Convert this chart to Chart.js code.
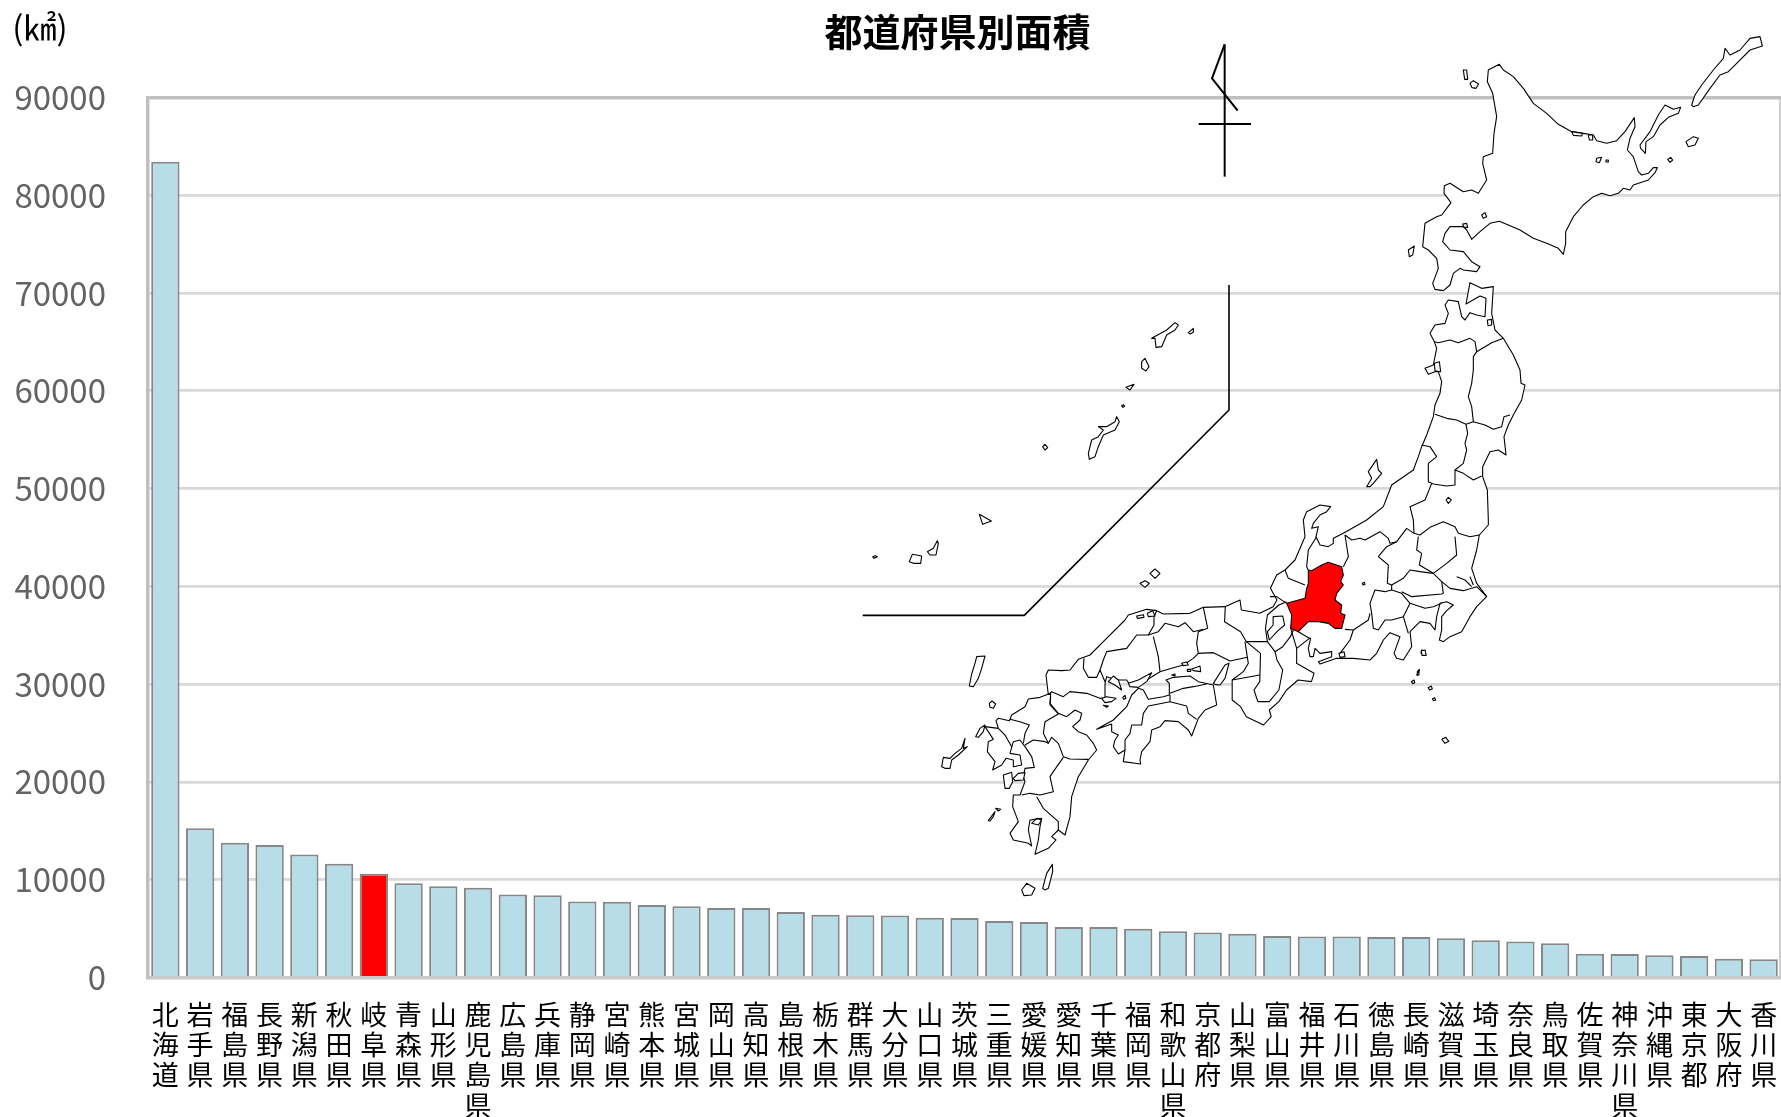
<!DOCTYPE html>
<html lang="ja">
<head>
<meta charset="utf-8">
<title>都道府県別面積</title>
<script src="https://cdn.jsdelivr.net/npm/chart.js@4"></script>
<style>
  html, body { margin: 0; padding: 0; background: #fff; }
  canvas { display: block; }
</style>
</head>
<body>
<canvas id="area-chart" width="1781" height="1117"></canvas>
<script>
// --- DATA ---
const prefectures = ['北海道','岩手県','福島県','長野県','新潟県','秋田県','岐阜県','青森県','山形県','鹿児島県','広島県','兵庫県','静岡県','宮崎県','熊本県','宮城県','岡山県','高知県','島根県','栃木県','群馬県','大分県','山口県','茨城県','三重県','愛媛県','愛知県','千葉県','福岡県','和歌山県','京都府','山梨県','富山県','福井県','石川県','徳島県','長崎県','滋賀県','埼玉県','奈良県','鳥取県','佐賀県','神奈川県','沖縄県','東京都','大阪府','香川県'];
const areas = [83424,15275,13784,13562,12584,11638,10621,9646,9323,9187,8480,8401,7777,7735,7409,7282,7114,7104,6708,6408,6362,6341,6113,6097,5774,5676,5172,5158,4987,4725,4612,4465,4248,4190,4186,4147,4131,4017,3798,3691,3507,2441,2416,2281,2194,1905,1877];
const highlighted = '岐阜県';
const yMax = 90000;
const yStep = 10000;
const titleText = '都道府県別面積';
const unitText = '(㎢)';

const A = [1300, 20, 3], B = [1270, 440, 3], C = [930, 600, 3], D = [850, 270, 3], E = [900, 500, 2.613];

function seg(crop, flat) {
    const pts = [];
    for (let i = 0; i < flat.length; i += 2) pts.push([crop[0] + flat[i] / crop[2], crop[1] + flat[i + 1] / 3]);
    return pts;
}

const honshu = [].concat(
    seg(A, [435,855,445,840,475,845,485,890,495,900,510,878,530,885,555,890,558,835,540,828,498,852,510,788,545,805,580,800,575,880,585,930,610,955,640,1005,660,1050,663,1090,675,1095,665,1140,640,1185,625,1215,612,1250,618,1305,595,1290,570,1295,548,1340,548,1370,562,1410,565,1500]),
    seg(B, [655,255,628,285,620,330,605,385,620,430,650,470,620,500,600,530,575,575,540,590,520,605,508,600,515,570,515,530,530,512,550,495,530,485,510,490,500,530,495,570,480,550,450,545,420,575,425,620,400,660,380,655,372,640,390,590,360,578,340,600,320,640,300,660,250,655,200,655,150,672,145,665,185,650,185,635,150,640,135,625,130,650,120,650,115,625,122,595,118,595,80,625,80,660]),
    seg(E, [1036,490,1082,520,1075,545,1040,540,1010,570,990,605,965,630,970,650,950,675,905,650,890,620,868,600,868,540]),
    seg(C, [940,215,955,190,952,172,900,183,850,158,805,160,790,175,760,195,725,205,690,215,650,240,600,255,590,240,560,240,530,230,525,250,525,295,510,295,470,280,420,275,400,290,365,275,355,285,348,225,355,210,395,212,420,210,445,178,480,165,520,125,585,60,595,45,650,28,680,32,700,42,780,40,820,22,885,20,930,0]),
    seg(E, [892,330,940,340,975,320,985,300,968,265]),
    seg(B, [20,405,45,390,75,360,105,290,100,240,110,215,150,195,182,200,170,215,150,225,130,250,125,265,145,260,138,290,150,315,175,320,190,310,190,295,220,280,290,240,340,200,365,135,430,90,445,50,455,20]),
    seg(A, [380,1245,400,1190,405,1155,420,1120,425,1085,415,1055,405,1055,385,1063,375,1045,400,1035,410,985,403,965,390,940,405,915,435,910,445,880])
);
const hokkaido = seg(A, [565,150,598,133,610,150,640,170,670,205,700,250,740,280,775,313,815,335,850,340,880,345,890,362,920,370,950,362,975,335,1003,293,1005,320,990,355,982,390,1000,410,1015,455,1025,465,1045,460,1060,443,1072,443,1065,458,1045,480,1000,495,990,510,970,505,955,520,930,527,905,520,880,530,850,555,820,590,797,635,797,670,790,703,775,685,740,670,700,655,660,630,625,615,598,604,570,610,540,635,515,658,500,630,490,620,450,620,435,640,428,665,450,690,490,695,515,725,540,740,530,755,490,750,480,745,460,760,450,795,430,812,405,808,398,790,415,745,410,715,385,690,368,680,372,640,375,610,410,590,425,585,440,565,453,548,432,520,433,497,450,490,490,515,515,510,535,520,560,480,548,430,550,410,578,400,582,340,590,290,578,220,562,185]);
const shikoku = seg(C, [500,388,550,360,590,320,605,285,625,265,640,270,655,298,700,290,718,285,718,250,708,240,730,232,780,228,805,245,850,255,855,285,860,315,825,330,805,355,785,408,775,390,745,365,705,362,690,380,665,390,660,425,635,455,630,480,632,492,580,485,585,450,565,462,550,440,555,420,565,405,545,395,545,372]);
const kyushu = seg(C, [362,280,330,292,295,297,285,320,245,345,238,362,205,355,198,362,205,385,165,380,190,418,175,425,172,455,195,485,188,510,215,495,228,475,250,480,250,500,275,495,270,465,240,460,250,425,270,420,285,440,305,470,313,502,285,505,280,530,285,545,270,585,250,585,248,620,265,665,240,700,250,720,295,730,305,738,295,690,300,660,335,655,330,680,325,720,315,763,355,745,378,720,365,710,385,690,405,705,420,650,425,590,445,530,475,480,500,450,490,430,470,405,445,395,428,380,450,360,455,340,435,330,410,350,385,340,360,310]);
const gifuShape = seg(B, [115,390,125,392,155,375,175,367,215,380,220,405,212,425,220,435,200,460,195,480,215,495,212,520,225,525,215,565,195,565,175,550,145,545,115,545,85,575,62,565,65,525,50,490,105,475,110,445,115,430]);

const islands = [
    seg(A, [1020,375,1050,335,1075,285,1095,255,1120,268,1142,262,1135,280,1105,292,1080,315,1060,350,1038,365,1036,400,1022,385]),
    seg(A, [1175,255,1185,225,1205,195,1240,150,1270,115,1275,85,1290,105,1320,90,1350,55,1380,50,1387,78,1350,90,1310,130,1285,155,1260,165,1230,205,1195,255,1180,260]),
    seg(A, [1158,365,1180,350,1195,355,1185,375,1165,380]),
    seg(A, [1103,418,1112,412,1118,420,1110,427]),
    seg(A, [510,190,520,182,536,192,528,205,516,203]),
    seg(A, [490,150,500,150,503,178,494,178]),
    seg(A, [325,690,343,678,338,705,328,710]),
    seg(A, [545,585,555,578,560,590,550,595]),
    seg(A, [488,612,500,610,503,622,492,622]),
    seg(A, [890,415,905,412,898,428,888,425]),
    seg(A, [918,420,925,420,925,426,918,426]),
    seg(A, [815,335,848,340,845,348,820,346]),
    seg(A, [865,345,878,345,878,360,868,360]),
    seg(A, [562,900,575,898,575,915,564,917]),
    seg(A, [403,1030,418,1025,422,1055,405,1052]),
    seg(B, [290,140,305,115,295,95,320,58,325,90,335,100,310,130,300,140]),
    seg(B, [455,630,465,635,462,645,453,640]),
    seg(B, [442,695,448,688,443,706]),
    seg(E, [1336,545,1343,540,1345,548,1340,551]),
    seg(E, [1380,563,1388,558,1391,566,1384,570]),
    seg(E, [1391,597,1397,593,1400,600,1394,602]),
    seg(E, [1416,718,1426,712,1434,724,1424,730]),
    seg(E, [1350,525,1356,510,1356,525]),
    seg(E, [1362,452,1372,450,1375,466,1364,466]),
    seg(C, [850,250,885,195,897,190,885,235,870,255,855,253]),
    seg(C, [785,207,810,198,812,215,790,212]),
    seg(C, [595,250,625,240,640,232,665,218,650,245,625,262,600,260]),
    seg(C, [535,245,550,228,565,240,575,270,555,255]),
    seg(C, [515,295,530,290,558,295,545,305,525,308]),
    seg(C, [520,316,535,318,530,322]),
    seg(C, [578,292,585,286,588,295,582,298]),
    seg(C, [725,225,735,222,735,228]),
    seg(C, [755,190,770,186,775,195,760,197]),
    seg(C, [772,208,782,208,782,214,772,214]),
    seg(C, [620,48,640,44,642,52,622,55]),
    seg(C, [652,40,668,32,675,48,655,50]),
    seg(C, [118,258,125,222,135,190,140,170,165,168,155,205,145,235,130,260]),
    seg(C, [178,310,186,303,197,312,190,325,180,322]),
    seg(C, [35,500,40,472,60,475,75,460,95,445,105,415,100,445,112,440,85,465,65,480,60,505,45,505]),
    seg(C, [137,410,150,385,165,375,160,395,145,412]),
    seg(C, [220,525,245,517,248,545,238,565,225,565]),
    seg(C, [250,535,265,520,285,518,280,540,255,542]),
    seg(C, [175,662,195,635,190,650,180,663]),
    seg(C, [197,625,212,628,205,633]),
    seg(C, [275,870,290,850,315,865,305,885,282,887]),
    seg(C, [338,865,350,820,367,793,368,815,355,865,345,870]),
    seg(D, [900,910,915,897,930,910,915,925]),
    seg(D, [870,940,885,932,898,940,885,952]),
    seg(D, [905,205,950,180,975,158,985,165,975,180,950,195,935,230,918,232,915,205]),
    seg(D, [1015,188,1030,175,1030,187,1020,192]),
    seg(D, [875,275,885,265,897,290,888,303,875,295]),
    seg(D, [828,352,852,343,840,360]),
    seg(D, [815,408,820,404,824,409,819,412]),
    seg(D, [715,550,725,510,745,500,760,480,745,470,770,470,795,455,800,440,808,455,795,480,760,495,745,530,735,560,718,568]),
    seg(D, [578,530,585,523,593,533,585,540]),
    seg(D, [388,733,424,753,398,763]),
    seg(D, [232,845,250,835,262,812,265,820,258,855,240,855]),
    seg(D, [178,875,187,853,215,858,212,880,190,880]),
    seg(D, [68,860,76,857,82,860,72,865])
];
const lakes = [
    seg(B, [528,180,535,172,544,180,535,190]),
    seg(B, [277,430,283,427,285,433,279,435]),
    seg(B, [207,640,222,635,225,650,210,652]),
    seg(E, [975,350,1000,348,1005,375,985,395,965,420,960,395,975,375]),
    seg(C, [305,670,320,655,335,660,325,675])
];
const borders = [
    // Tohoku
    seg(A, [403,965,415,968,450,960,475,968,510,955,525,965,530,995,575,968,610,955]),
    seg(A, [530,995,520,1010,520,1050,515,1090,505,1130,515,1160,520,1205]),
    seg(A, [405,1183,440,1195,470,1200,498,1213,520,1205,555,1215,580,1228,605,1220,612,1190,630,1185]),
    seg(A, [498,1213,503,1240,495,1270,500,1290,490,1330,465,1350,490,1360,520,1380,545,1368]),
    seg(A, [365,1275,390,1280,410,1310,385,1330,385,1385,400,1392,440,1398,465,1395,465,1350]),
    // Kanto, Chubu
    seg(B, [485,130,465,180,420,200,430,240,432,280,450,285,480,262,520,245,555,260,565,280,600,290,628,285]),
    seg(B, [445,290,440,330,455,340,448,375,490,400,530,370,560,345,555,290]),
    seg(B, [432,280,410,265,380,305,350,320,325,350,355,375,352,430,365,435,400,415,420,390,450,395,490,400,515,425,520,460]),
    seg(B, [225,285,245,300,270,295,285,300,330,275,355,295,360,310,380,305]),
    seg(B, [365,450,395,460,420,490,400,530,365,540,345,540,325,570,310,565,305,520,300,490,315,450,345,455,365,450]),
    seg(B, [365,435,365,450]),
    seg(B, [395,455,425,470,515,462,520,460]),
    seg(B, [420,490,465,505,490,500,515,490]),
    seg(B, [400,530,415,580]),
    seg(B, [515,425,540,445,580,452,620,440,650,470]),
    seg(B, [560,410,585,420,605,440]),
    seg(B, [600,410,610,435]),
    seg(B, [300,520,295,540,250,570,225,568]),
    seg(B, [250,570,240,600,210,640]),
    seg(B, [225,285,235,350,220,380]),
    seg(B, [140,290,115,330,110,380,115,390]),
    seg(B, [45,390,55,415,105,435]),
    seg(B, [50,490,20,470,0,470]),
    seg(B, [85,575,118,595]),
    seg(B, [62,565,80,625]),
    // Kinki
    seg(E, [1010,305,990,315,960,345,955,385,960,425,980,455,1000,440,1020,410,1030,385]),
    seg(E, [850,320,848,365,890,395,905,425,960,425]),
    seg(E, [905,425,942,460,940,545,925,570,935,605,965,605,990,570,1000,510,985,480,980,455]),
    seg(E, [868,540,940,525]),
    seg(C, [945,125,952,172]),
    // Chugoku
    seg(C, [820,22,833,85,805,95,800,130,805,160]),
    seg(C, [655,105,685,95,705,70,745,80,765,68,790,95,820,88]),
    seg(C, [670,110,685,170,690,215]),
    seg(C, [680,32,672,50,672,75,655,105,620,105,590,145,530,155,520,180,510,210,525,245]),
    seg(C, [462,175,460,205,475,232,500,232,510,210]),
    // Shikoku
    seg(C, [720,285,720,305,770,318,775,340,800,358]),
    seg(C, [720,305,655,318,640,340,635,375,605,375,600,400,585,420,585,450]),
    seg(C, [720,280,760,265,790,260,830,252]),
    // Kyushu
    seg(C, [362,290,360,315,385,342,345,365,340,400,355,430,365,412,385,430,400,470,420,477,475,478]),
    seg(C, [240,358,270,365,298,375,285,400,280,430]),
    seg(C, [285,435,310,420,345,425,355,430]),
    seg(C, [400,472,370,515,360,530,370,575,330,585,300,580,275,585]),
    seg(C, [320,590,340,625,385,665,385,690]),
    seg(C, [205,385,225,405,245,440])
];
const insetLine = seg(D, [38,1036,523,1036,1137,420,1137,45]);
const compass = [
    seg([780,0,3], [1334,133,1334,530]),
    seg([780,0,3], [1334,133,1296,235,1373,332]),
    seg([780,0,3], [1256,372,1413,372])
];

// --- HELPERS ---
function tracePath(ctx, pts, closed) {
    ctx.beginPath();
    pts.forEach((p, i) => i ? ctx.lineTo(p[0], p[1]) : ctx.moveTo(p[0], p[1]));
    if (closed) ctx.closePath();
}

const framePlugin = {
    id: 'frameAndMap',
    afterLayout(chart) {
        // title centre sits a little left of the plot centre
        chart.titleBlock.left -= 14;
    },
    beforeDatasetsDraw(chart) {
        const ctx = chart.ctx, area = chart.chartArea;
        ctx.save();
        ctx.strokeStyle = '#bfbfbf';
        ctx.lineWidth = 1.5;
        ctx.beginPath();
        ctx.moveTo(area.right - 1, area.top);
        ctx.lineTo(area.right - 1, area.bottom);
        ctx.stroke();
        ctx.restore();
    },
    afterDatasetsDraw(chart) {
        const ctx = chart.ctx;
        ctx.save();
        ctx.lineJoin = 'round';
        ctx.strokeStyle = '#000';
        ctx.fillStyle = '#fff';
        ctx.lineWidth = 1.1;
        [hokkaido, honshu, shikoku, kyushu].concat(islands).forEach(shape => {
            tracePath(ctx, shape, true);
            ctx.fill();
            ctx.stroke();
        });
        borders.forEach(line => { tracePath(ctx, line, false); ctx.stroke(); });
        lakes.forEach(shape => { tracePath(ctx, shape, true); ctx.stroke(); });
        ctx.fillStyle = '#ff0000';
        tracePath(ctx, gifuShape, true);
        ctx.fill();
        ctx.stroke();
        ctx.lineWidth = 1.6;
        tracePath(ctx, insetLine, false);
        ctx.stroke();
        ctx.lineWidth = 2;
        compass.forEach(line => { tracePath(ctx, line, false); ctx.stroke(); });
        // unit label above the value axis
        ctx.fillStyle = '#000';
        ctx.font = '33px "Noto Sans CJK JP"';
        ctx.textAlign = 'center';
        ctx.textBaseline = 'middle';
        ctx.fillText(unitText, 40, 27);
        ctx.restore();
    }
};

// --- CHART ---
new Chart(document.getElementById('area-chart'), {
    type: 'bar',
    data: {
        labels: prefectures.map(name => name.split('')),
        datasets: [{
            label: '面積',
            data: areas,
            backgroundColor: prefectures.map(name => name === highlighted ? '#ff0000' : '#b7dde8'),
            borderColor: '#878787',
            borderWidth: 2,
            barPercentage: 0.815,
            categoryPercentage: 1
        }]
    },
    options: {
        responsive: false,
        devicePixelRatio: 1,
        animation: false,
        layout: { padding: 0, autoPadding: false },
        plugins: {
            legend: { display: false },
            tooltip: { enabled: false },
            title: {
                display: true,
                text: titleText,
                fullSize: false,
                color: '#000',
                font: { family: '"Noto Sans CJK JP"', size: 38, weight: 'bold', lineHeight: 1.2 },
                padding: { top: 9, bottom: 42.9 }
            }
        },
        scales: {
            x: {
                grid: { display: false },
                border: { color: '#c8c8c8', width: 3.5 },
                ticks: {
                    autoSkip: false,
                    maxRotation: 0,
                    minRotation: 0,
                    padding: 14,
                    color: '#000',
                    font: { family: '"Noto Sans CJK JP"', size: 27, lineHeight: 1.12 }
                },
                afterFit: scale => {
                    scale.height = 139.5;
                    scale.paddingLeft = 0;
                    scale.paddingRight = 0;
                }
            },
            y: {
                min: 0,
                max: yMax,
                grid: {
                    drawTicks: false,
                    lineWidth: c => c.tick.value === yMax ? 3.5 : 2.8,
                    color: c => c.tick.value === yMax ? '#bfbfbf' : '#d9d9d9'
                },
                border: { color: '#bfbfbf', width: 3.5 },
                ticks: {
                    stepSize: yStep,
                    padding: 42,
                    color: '#636363',
                    font: { family: '"Noto Sans CJK JP"', size: 33 },
                    callback: value => String(value)
                },
                afterFit: scale => {
                    scale.width = 148;
                    scale.paddingTop = 0;
                    scale.paddingBottom = 0;
                }
            }
        }
    },
    plugins: [framePlugin]
});
</script>
</body>
</html>
